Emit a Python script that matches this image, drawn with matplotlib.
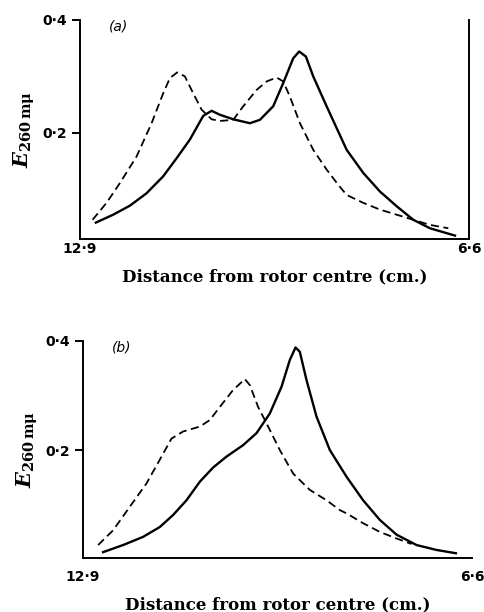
import matplotlib.pyplot as plt

plt.rcParams['mathtext.fontset'] = 'dejavuserif'

# panel (a): distance from rotor centre (cm) and E at 260 mu
a_solid_x = [12.641, 12.361, 12.090, 11.820, 11.551, 11.334, 11.119, 10.903, 10.767, 10.633,
             10.417, 10.147, 9.985, 9.770, 9.608, 9.446, 9.349, 9.240, 9.122, 8.905, 8.581,
             8.312, 8.041, 7.771, 7.502, 7.232, 6.827]
a_solid_y = [0.041, 0.055, 0.071, 0.093, 0.123, 0.155, 0.188, 0.230, 0.239, 0.232,
             0.224, 0.217, 0.223, 0.247, 0.288, 0.332, 0.344, 0.335, 0.300, 0.247, 0.170,
             0.129, 0.096, 0.070, 0.046, 0.031, 0.018]
a_dash_x = [12.694, 12.468, 12.252, 11.982, 11.739, 11.551, 11.442, 11.324, 11.200, 11.065,
            10.929, 10.767, 10.633, 10.417, 10.255, 10.038, 9.876, 9.714, 9.608, 9.499,
            9.337, 9.122, 8.905, 8.717, 8.581, 8.312, 8.041, 7.771, 7.502, 7.232, 6.935]
a_dash_y = [0.046, 0.076, 0.111, 0.158, 0.217, 0.270, 0.297, 0.307, 0.300, 0.270,
            0.241, 0.224, 0.221, 0.223, 0.247, 0.276, 0.291, 0.298, 0.291, 0.264,
            0.217, 0.170, 0.135, 0.108, 0.090, 0.076, 0.064, 0.055, 0.046, 0.037, 0.031]

# panel (b)
b_solid_x = [12.571, 12.247, 11.923, 11.653, 11.438, 11.221, 11.005, 10.790, 10.573, 10.304,
             10.087, 9.872, 9.682, 9.548, 9.455, 9.386, 9.277, 9.115, 8.900, 8.629,
             8.361, 8.090, 7.820, 7.496, 7.172, 6.859]
b_solid_y = [0.013, 0.026, 0.041, 0.059, 0.081, 0.108, 0.142, 0.168, 0.188, 0.209,
             0.231, 0.267, 0.316, 0.365, 0.388, 0.380, 0.328, 0.261, 0.200, 0.151,
             0.108, 0.072, 0.045, 0.026, 0.017, 0.011]
b_dash_x = [12.652, 12.409, 12.139, 11.868, 11.625, 11.464, 11.276, 11.005, 10.843, 10.681,
            10.466, 10.276, 10.195, 10.061, 9.925, 9.710, 9.494, 9.224, 8.953, 8.738,
            8.629, 8.361, 8.090, 7.820, 7.577]
b_dash_y = [0.026, 0.053, 0.096, 0.139, 0.188, 0.221, 0.234, 0.243, 0.255, 0.279,
            0.310, 0.330, 0.319, 0.279, 0.249, 0.200, 0.157, 0.127, 0.108, 0.090,
            0.084, 0.066, 0.050, 0.038, 0.028]

x_ticks = [12.9, 6.6]
x_labels = ['12\u00b79', '6\u00b76']
y_ticks = [0.2, 0.4]
y_labels = ['0\u00b72', '0\u00b74']

fig = plt.figure(figsize=(4.84, 6.12), dpi=100)
ax_a = fig.add_axes([0.165, 0.6095, 0.804, 0.358])
ax_b = fig.add_axes([0.171, 0.088, 0.804, 0.355])


def style_panel(ax, tag, ybot, right_spine, xpad):
    ax.set_xlim(12.9, 6.6)
    ax.set_ylim(ybot, 0.4)
    ax.spines['top'].set_visible(False)
    ax.spines['right'].set_visible(right_spine)
    for s in ax.spines.values():
        s.set_linewidth(1.4)
    ax.set_xticks(x_ticks)
    ax.set_xticklabels(x_labels, fontsize=10, fontweight='bold', family='DejaVu Sans')
    ax.set_yticks(y_ticks)
    ax.set_yticklabels(y_labels, fontsize=10, fontweight='bold', family='DejaVu Sans')
    ax.tick_params(axis='x', length=0, pad=xpad)
    ax.tick_params(axis='y', length=6, width=1.4, direction='out', pad=3)
    ax.set_xlabel('Distance from rotor centre (cm.)', fontsize=12, fontweight='bold',
                  family='DejaVu Serif', labelpad=9)
    ax.set_ylabel(r'$\mathbfit{E}_{\mathbf{260\,m\mu}}$', fontsize=15, labelpad=4)
    ax.text(0.075, 1.0, tag, transform=ax.transAxes, fontsize=10, style='italic',
            family='DejaVu Sans', va='top')


ax_a.plot(a_solid_x, a_solid_y, color='black', lw=1.7, solid_joinstyle='round')
ax_a.plot(a_dash_x, a_dash_y, color='black', lw=1.3, dashes=(4.5, 2.5))
style_panel(ax_a, '(a)', 0.012, True, 2)

ax_b.plot(b_solid_x, b_solid_y, color='black', lw=1.7, solid_joinstyle='round')
ax_b.plot(b_dash_x, b_dash_y, color='black', lw=1.3, dashes=(4.5, 2.5))
style_panel(ax_b, '(b)', 0.002, False, 8.5)

fig.savefig('out.png', dpi=100)
